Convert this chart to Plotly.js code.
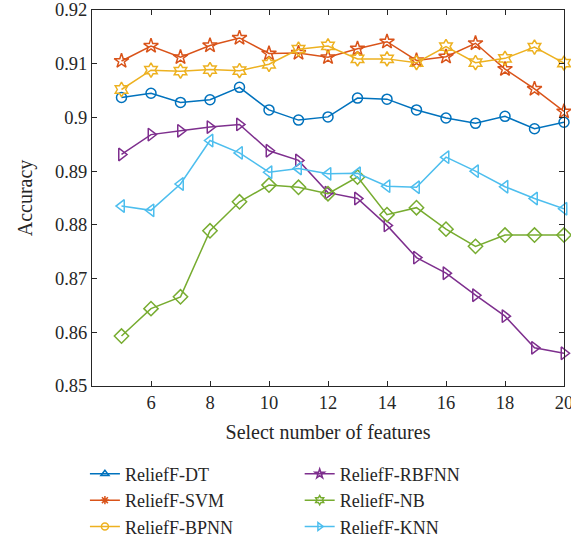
<!DOCTYPE html>
<html>
<head>
<meta charset="utf-8">
<script src="https://cdn.plot.ly/plotly-3.0.1.min.js"></script>
<style>html,body{margin:0;padding:0;background:#fff;}#chart{width:571px;height:538px;}</style>
</head>
<body>
<div id="chart"></div>
<script>
const features = [5,6,7,8,9,10,11,12,13,14,15,16,17,18,19,20];
const names = ["ReliefF-DT","ReliefF-SVM","ReliefF-BPNN","ReliefF-RBFNN","ReliefF-NB","ReliefF-KNN"];
const accDT    = [0.9037,0.9045,0.9028,0.9033,0.9056,0.9014,0.8995,0.9001,0.9036,0.9034,0.9014,0.8999,0.8989,0.9002,0.8979,0.8991];
const accSVM   = [0.9105,0.9133,0.9112,0.9134,0.9148,0.9119,0.9120,0.9112,0.9128,0.9141,0.9106,0.9113,0.9138,0.9090,0.9053,0.9011];
const accBPNN  = [0.9052,0.9088,0.9086,0.9089,0.9087,0.9099,0.9127,0.9133,0.9109,0.9109,0.9102,0.9132,0.9102,0.9110,0.9131,0.9101];
const accRBFNN = [0.8931,0.8968,0.8975,0.8982,0.8987,0.8938,0.8920,0.8860,0.8849,0.8799,0.8739,0.8710,0.8669,0.8630,0.8571,0.8561];
const accNB    = [0.8593,0.8644,0.8666,0.8789,0.8843,0.8874,0.8870,0.8858,0.8889,0.8819,0.8832,0.8792,0.8760,0.8781,0.8781,0.8781];
const accKNN   = [0.8835,0.8827,0.8876,0.8957,0.8934,0.8898,0.8905,0.8895,0.8896,0.8872,0.8870,0.8926,0.8900,0.8871,0.8849,0.8830];
const xTicks = [6,8,10,12,14,16,18,20];
const yTicks = [0.85,0.86,0.87,0.88,0.89,0.9,0.91,0.92];
const yTickText = ["0.85","0.86","0.87","0.88","0.89","0.9","0.91","0.92"];

const series = [accDT, accSVM, accBPNN, accRBFNN, accNB, accKNN];
const colors = ["#0072BD","#D95319","#EDB120","#7E2F8E","#77AC30","#4DBEEE"];
const plotSymbols = ["circle-open","star-open","hexagram-open","triangle-right-open","diamond-open","triangle-left-open"];
const plotSizes = [10,11,11,11,11,11];
const legendSymbols = ["triangle-up-open","asterisk-open","circle-open","star-open","hexagram-open","triangle-right-open"];

const traces = [];
series.forEach((s,i)=>{
  traces.push({
    x: features, y: s, type:'scatter', mode:'lines+markers', showlegend:false, cliponaxis:false,
    line:{color:colors[i], width:1.5},
    marker:{symbol:plotSymbols[i], size:plotSizes[i], color:colors[i], line:{color:colors[i], width:1.5}}
  });
});
series.forEach((s,i)=>{
  traces.push({
    x:[null], y:[null], type:'scatter', mode:'lines+markers', name:names[i],
    legend: i<3 ? 'legend' : 'legend2',
    line:{color:colors[i], width:1.5},
    marker:{symbol:legendSymbols[i], size:7, color:colors[i], line:{color:colors[i], width:1.5}}
  });
});

const fam = "Liberation Serif, Times New Roman, serif";
const txt = "#262626";
const legendCommon = {
  orientation:'v', yanchor:'top', xanchor:'left', y:-0.185,
  font:{family:fam, size:18, color:txt},
  bgcolor:'rgba(0,0,0,0)'
};
const layout = {
  width:571, height:538,
  margin:{l:92, r:7, t:10, b:152, autoexpand:false},
  paper_bgcolor:'#fff', plot_bgcolor:'#fff',
  font:{family:fam, size:18.5, color:txt},
  xaxis:{
    range:[4,20], tickvals:xTicks, ticktext:xTicks.map(String),
    ticks:'inside', ticklen:5, tickwidth:1, tickcolor:txt, ticklabeloverflow:'allow',
    showline:true, linecolor:txt, linewidth:1, mirror:'ticks',
    showgrid:false, zeroline:false, automargin:false,
    tickfont:{family:fam, size:18.5, color:txt},
    title:{text:'Select number of features', font:{family:fam, size:20, color:txt}, standoff:12}
  },
  yaxis:{
    range:[0.85,0.92], tickvals:yTicks, ticktext:yTickText,
    ticks:'inside', ticklen:5, tickwidth:1, tickcolor:txt, ticklabeloverflow:'allow',
    showline:true, linecolor:txt, linewidth:1, mirror:'ticks',
    showgrid:false, zeroline:false, automargin:false,
    tickfont:{family:fam, size:18.5, color:txt},
    title:{text:'Accuracy', font:{family:fam, size:20, color:txt}, standoff:16}
  },
  legend: Object.assign({}, legendCommon, {x:-0.015}),
  legend2: Object.assign({}, legendCommon, {x:0.44}),
  showlegend:true
};
Plotly.newPlot('chart', traces, layout, {displayModeBar:false, staticPlot:true});
</script>
</body>
</html>
